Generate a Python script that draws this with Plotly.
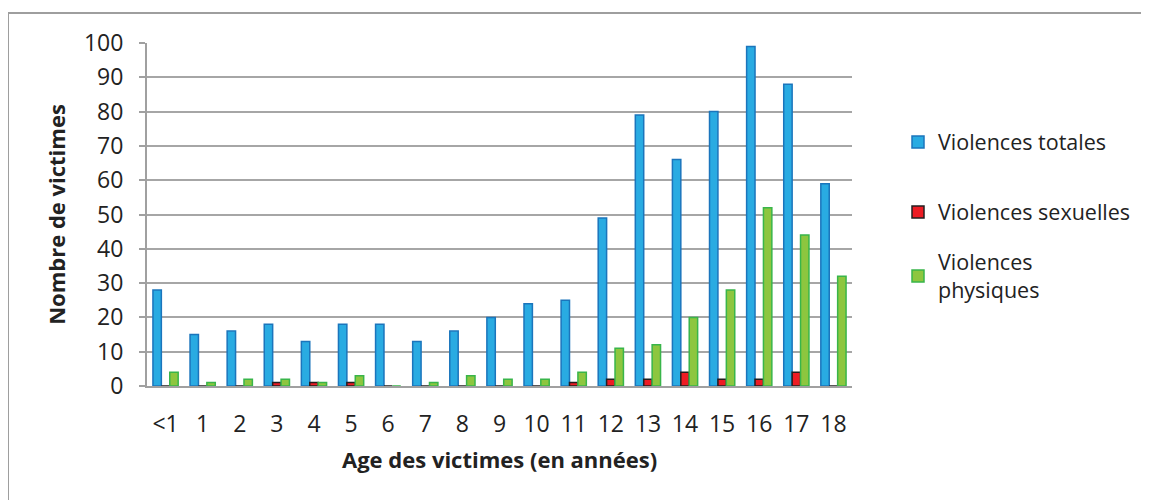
import plotly.graph_objects as go

categories = ["<1", "1", "2", "3", "4", "5", "6", "7", "8", "9", "10", "11", "12", "13", "14", "15", "16", "17", "18"]
totales = [28, 15, 16, 18, 13, 18, 18, 13, 16, 20, 24, 25, 49, 79, 66, 80, 99, 88, 59]
sexuelles = [0, 0, 0, 1, 1, 1, 0, 0, 0, 0, 0, 1, 2, 2, 4, 2, 2, 4, 0]
physiques = [4, 1, 2, 2, 1, 3, 0, 1, 3, 2, 2, 4, 11, 12, 20, 28, 52, 44, 32]
yticks = [0, 10, 20, 30, 40, 50, 60, 70, 80, 90, 100]

FONT = "'Open Sans', sans-serif"
FS = 22
TFS = 23
TXT = "#222222"

fig = go.Figure()
fig.add_trace(go.Bar(x=categories, y=totales, name="Violences totales", legend="legend",
                     marker=dict(color="#29ABE2", line=dict(color="#1B75BC", width=1.5))))
fig.add_trace(go.Bar(x=categories, y=sexuelles, name="Violences sexuelles", legend="legend2",
                     marker=dict(color="#ED1C24", line=dict(color="#231F20", width=1.5))))
fig.add_trace(go.Bar(x=categories, y=physiques, name="Violences<br>physiques", legend="legend3",
                     marker=dict(color="#8DC63F", line=dict(color="#39B54A", width=1.5))))

OFF = 8  # page body offset
L, R, T, B = 147 - OFF, 852 - OFF, 43 - OFF, 386 - OFF
W, H = 1149, 500
pw, ph = R - L, B - T


def leg(ypage):
    return dict(x=(898 - OFF - L) / pw, y=(B - (ypage - OFF)) / ph, xanchor="left", yanchor="middle",
                font=dict(family=FONT, size=21.5, color=TXT), itemwidth=30,
                bgcolor="rgba(0,0,0,0)")


fig.update_layout(
    width=W, height=H,
    margin=dict(l=L, r=W - R, t=T, b=H - B, pad=0),
    paper_bgcolor="white", plot_bgcolor="white",
    barmode="group", bargap=0.32, bargroupgap=0,
    font=dict(family=FONT, size=FS, color=TXT),
    showlegend=True,
    legend=leg(142), legend2=leg(212), legend3=leg(276),
    xaxis=dict(type="category", showline=True, linecolor="#A0A0A0", linewidth=2,
               ticks="", showgrid=False, ticklabelstandoff=16,
               tickfont=dict(family=FONT, size=TFS, color=TXT)),
    yaxis=dict(range=[0, 100], tickmode="array", tickvals=yticks,
               showline=True, linecolor="#A0A0A0", linewidth=2,
               showgrid=True, gridcolor="#A6A6A6", gridwidth=1.5,
               ticks="outside", ticklen=6, tickcolor="#A0A0A0", tickwidth=1.5,
               ticklabelstandoff=11, zeroline=False,
               tickfont=dict(family=FONT, size=TFS, color=TXT),
               title=dict(text="<b>Nombre de victimes</b>", standoff=12,
                          font=dict(family=FONT, size=FS, color=TXT))),
    annotations=[dict(text="<b>Age des victimes (en années)</b>", xref="paper", yref="paper",
                      x=0.5, y=(B - (459 - OFF)) / ph, xanchor="center", yanchor="middle",
                      showarrow=False, font=dict(family=FONT, size=FS, color=TXT))],
    shapes=[dict(type="rect", xref="paper", yref="paper",
                 x0=(8 - OFF - L) / pw, x1=(1170 - L) / pw,
                 y0=(B - 540) / ph, y1=(B - (13 - OFF)) / ph,
                 line=dict(color="#9E9E9E", width=2), fillcolor="rgba(0,0,0,0)", layer="below")],
)

fig.write_html("out.html")
